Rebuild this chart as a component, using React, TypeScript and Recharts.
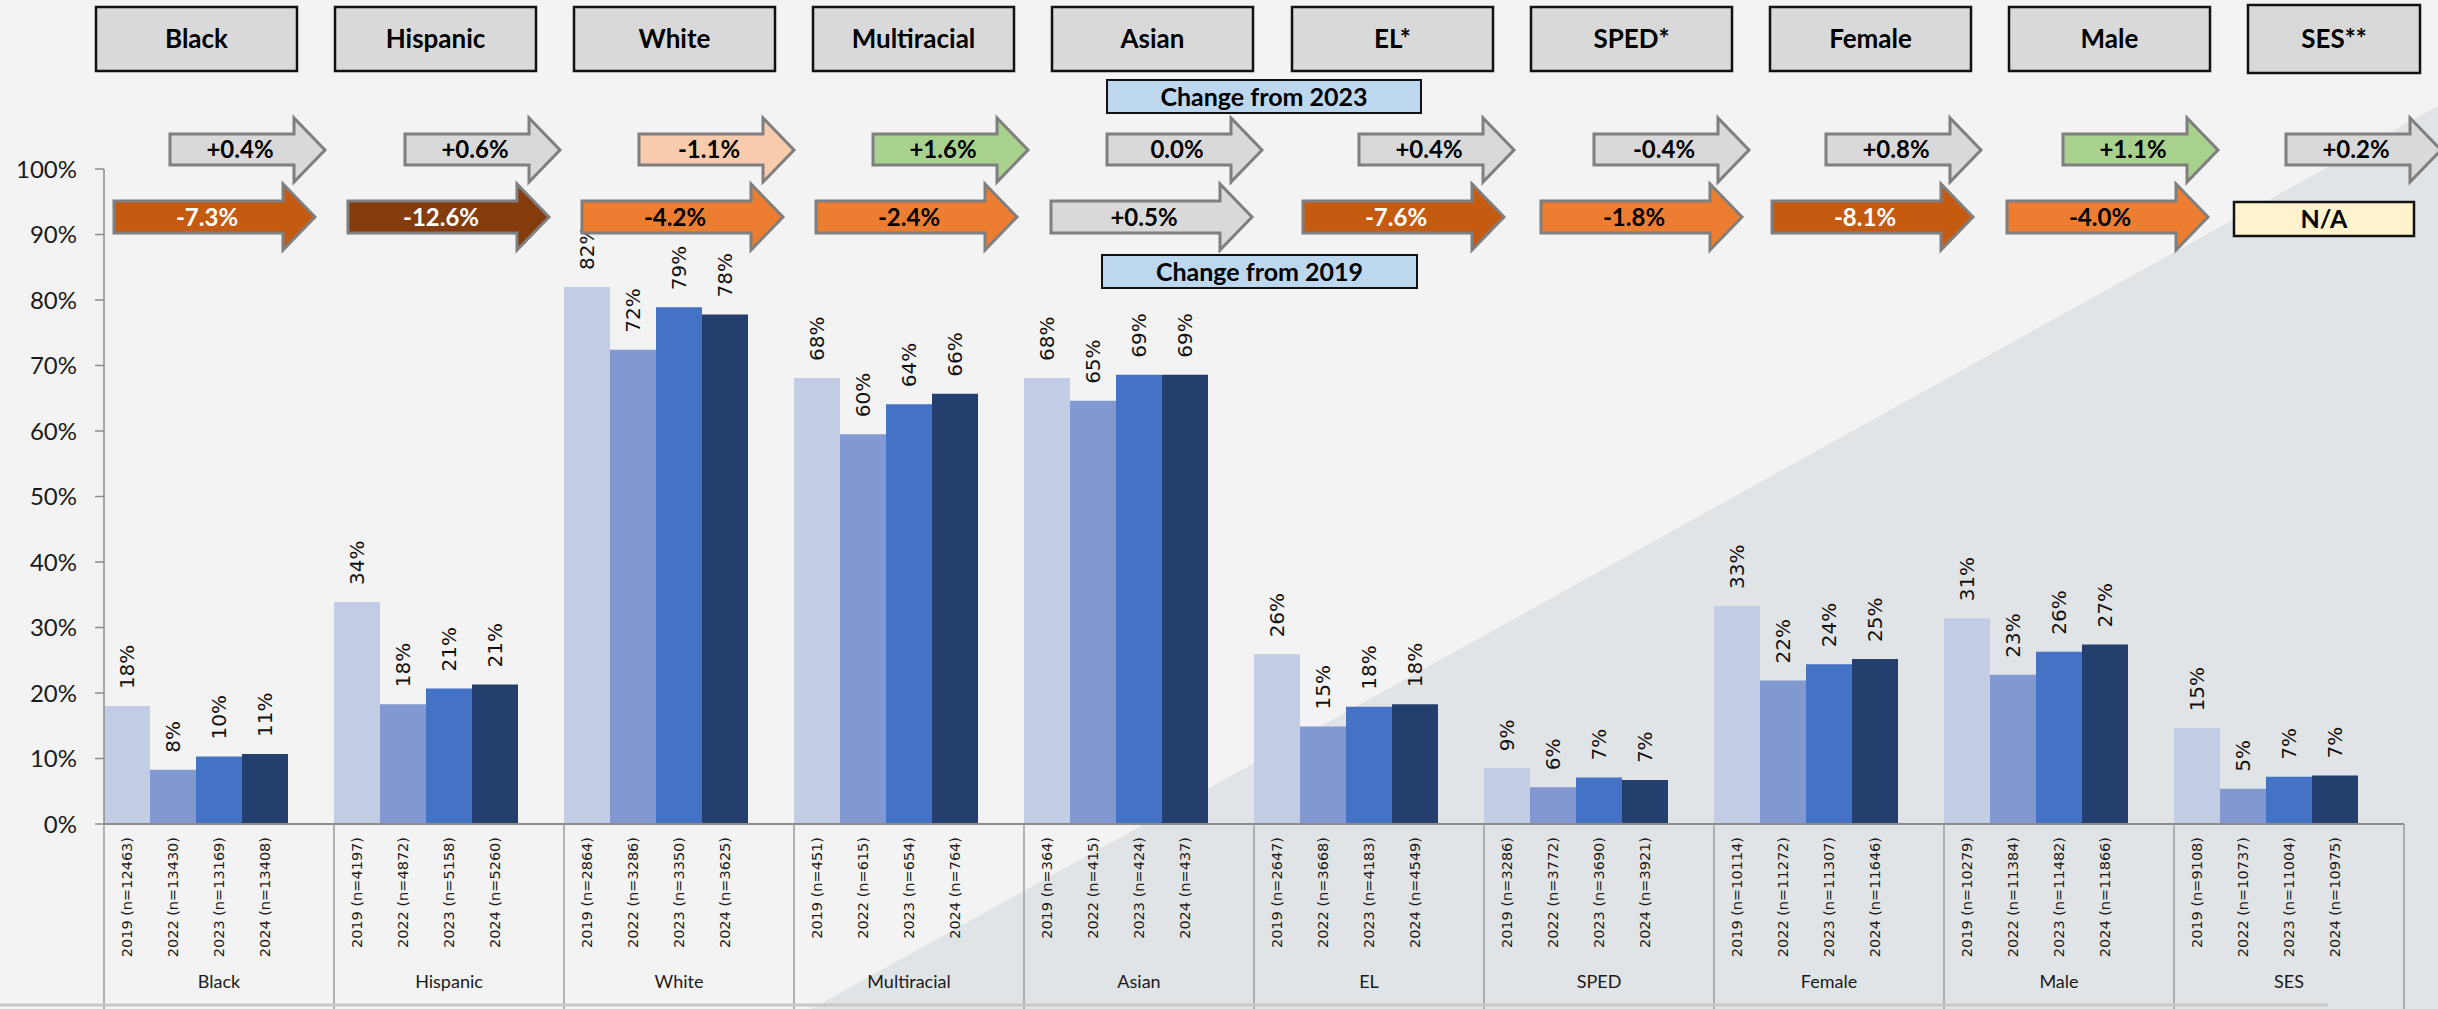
import { BarChart, Bar, XAxis, YAxis, Cell, LabelList } from "recharts";

// groups on the category axis
const groups = ["Black", "Hispanic", "White", "Multiracial", "Asian", "EL", "SPED", "Female", "Male", "SES"];
const headerLabels = ["Black", "Hispanic", "White", "Multiracial", "Asian", "EL*", "SPED*", "Female", "Male", "SES**"];
const years = ["2019", "2022", "2023", "2024"];

// percent meeting standard, by year
const rate2019 = [18.0, 33.9, 82.0, 68.1, 68.1, 25.9, 8.5, 33.3, 31.4, 14.6];
const rate2022 = [8.3, 18.3, 72.4, 59.5, 64.6, 14.9, 5.6, 21.9, 22.8, 5.4];
const rate2023 = [10.3, 20.7, 78.9, 64.1, 68.6, 17.9, 7.1, 24.4, 26.3, 7.2];
const rate2024 = [10.7, 21.3, 77.8, 65.7, 68.6, 18.3, 6.7, 25.2, 27.4, 7.4];

// student counts
const n2019 = [12463, 4197, 2864, 451, 364, 2647, 3286, 10114, 10279, 9108];
const n2022 = [13430, 4872, 3286, 615, 415, 3668, 3772, 11272, 11384, 10737];
const n2023 = [13169, 5158, 3350, 654, 424, 4183, 3690, 11307, 11482, 11004];
const n2024 = [13408, 5260, 3625, 764, 437, 4549, 3921, 11646, 11866, 10975];

// change arrows (percentage points)
const changeFrom2023 = [0.4, 0.6, -1.1, 1.6, 0.0, 0.4, -0.4, 0.8, 1.1, 0.2];
const changeFrom2019 = [-7.3, -12.6, -4.2, -2.4, 0.5, -7.6, -1.8, -8.1, -4.0, null];

const yTicks = [0, 10, 20, 30, 40, 50, 60, 70, 80, 90, 100];

const yearColors = ["#c2cce5", "#8198d0", "#4472c4", "#243e6e"];

// slide layout (px)
const W = 2438;
const H = 1009;
const PLOT_LEFT = 104;
const PLOT_RIGHT = 2404;
const SLOTS = 5; // 4 bars + 1 gap per group
const BAND = (PLOT_RIGHT - PLOT_LEFT) / (groups.length * SLOTS);

const headerLeft = [96, 335, 574, 813, 1052, 1292, 1531, 1770, 2009, 2248];
const upperLeft = [170, 405, 639, 873, 1107, 1359, 1594, 1826, 2063, 2286];
const lowerLeft = [114, 348, 582, 816, 1051, 1303, 1541, 1772, 2007];

const rates = [rate2019, rate2022, rate2023, rate2024];
const counts = [n2019, n2022, n2023, n2024];

const rows: any[] = [];
groups.forEach((g, gi) => {
  for (let s = 0; s < SLOTS; s++) {
    if (s < years.length) {
      rows.push({
        key: `${g}-${years[s]}`,
        group: g,
        slot: s,
        year: years[s],
        value: rates[s][gi],
        label: `${years[s]} (n=${counts[s][gi]})`,
      });
    } else {
      rows.push({ key: `${g}-gap`, group: g, slot: s, value: null });
    }
  }
});

const fmtChange = (v: number) => (v > 0 ? `+${v.toFixed(1)}%` : `${v.toFixed(1)}%`);

const changeFill = (v: number) => {
  if (v >= 1) return "#a9d18e";
  if (v > -1) return "#d9d9d9";
  if (v > -1.5) return "#f8cbad";
  if (v > -5) return "#ed7d31";
  if (v > -10) return "#c55a11";
  return "#843c0c";
};

const CategoryTick = (props: any) => {
  const { x, y } = props;
  const index = props.index ?? props.payload?.index ?? 0;
  const row = rows[index];
  if (!row) return null;
  const half = BAND / 2;
  const isLast = index === rows.length - 1;
  return (
    <g>
      {row.year && (
        <text
          transform={`translate(${x},${y + 13}) rotate(-90)`}
          textAnchor="end"
          dy="0.35em"
          fontFamily="DejaVu Sans"
          fontSize={14.5}
          fill="#1a1a1a"
        >
          {row.label}
        </text>
      )}
      {row.slot === 0 && (
        <line x1={x - half} x2={x - half} y1={y} y2={H} stroke="#9c9c9c" strokeWidth={1.5} />
      )}
      {isLast && <line x1={x + half} x2={x + half} y1={y} y2={H} stroke="#9c9c9c" strokeWidth={1.5} />}
      {row.slot === 2 && (
        <text x={x} y={y + 158} textAnchor="middle" dy="0.35em" fontFamily="Lato" fontSize={18} fill="#1a1a1a">
          {row.group}
        </text>
      )}
    </g>
  );
};

const BarValueLabel = (props: any) => {
  const { x, y, width, value } = props;
  if (value == null) return null;
  const cx = Number(x) + Number(width) / 2;
  const top = Number(y) - 17;
  return (
    <text
      transform={`translate(${cx},${top}) rotate(-90)`}
      textAnchor="start"
      dy="0.35em"
      fontFamily="DejaVu Sans"
      fontSize={20}
      fill="#111"
    >
      {`${Math.round(value)}%`}
    </text>
  );
};

const arrowPath = (left: number, tip: number, bodyTop: number, bodyBottom: number, headTop: number, headBottom: number, headLen: number) => {
  const hs = tip - headLen;
  const mid = (headTop + headBottom) / 2;
  return `M${left},${bodyTop} L${hs},${bodyTop} L${hs},${headTop} L${tip},${mid} L${hs},${headBottom} L${hs},${bodyBottom} L${left},${bodyBottom} Z`;
};

function Overlay() {
  return (
    <svg width={W} height={H} style={{ position: "absolute", left: 0, top: 0, pointerEvents: "none" }}>
      <line x1={0} x2={2328} y1={1005} y2={1005} stroke="#c8c8c8" strokeWidth={3} />
      {headerLabels.map((h, i) => {
        const left = headerLeft[i];
        const last = i === headerLabels.length - 1;
        const w = last ? 172 : 201;
        const top = last ? 5 : 7;
        const ht = last ? 68 : 64;
        return (
          <g key={h}>
            <rect x={left} y={top} width={w} height={ht} fill="#d9d9d9" stroke="#111" strokeWidth={2.5} />
            <text x={left + w / 2} y={top + ht / 2} dy="0.36em" textAnchor="middle" fontFamily="Lato" fontWeight={700} fontSize={26} fill="#000">
              {h}
            </text>
          </g>
        );
      })}

      <rect x={1107} y={80} width={314} height={33} fill="#bdd7ee" stroke="#111" strokeWidth={2} />
      <text x={1264} y={96.5} dy="0.36em" textAnchor="middle" fontFamily="Lato" fontWeight={700} fontSize={25} fill="#000">
        Change from 2023
      </text>
      <rect x={1102} y={255} width={315} height={33} fill="#bdd7ee" stroke="#111" strokeWidth={2} />
      <text x={1259.5} y={271.5} dy="0.36em" textAnchor="middle" fontFamily="Lato" fontWeight={700} fontSize={25} fill="#000">
        Change from 2019
      </text>

      {changeFrom2023.map((v, i) => {
        const left = upperLeft[i];
        return (
          <g key={`u${i}`}>
            <path d={arrowPath(left, left + 155, 134, 165, 118, 182, 31)} fill={changeFill(v)} stroke="#7f7f7f" strokeWidth={3} />
            <text x={left + 70} y={149.5} dy="0.36em" textAnchor="middle" fontFamily="Lato" fontWeight={700} fontSize={24} fill={v <= -5 ? "#fff" : "#000"}>
              {fmtChange(v)}
            </text>
          </g>
        );
      })}

      {changeFrom2019.map((v, i) => {
        if (v == null) {
          return (
            <g key={`l${i}`}>
              <rect x={2234} y={202} width={180} height={34} fill="#fff2cc" stroke="#111" strokeWidth={2.5} />
              <text x={2324} y={219} dy="0.36em" textAnchor="middle" fontFamily="Lato" fontWeight={700} fontSize={25} fill="#000">
                N/A
              </text>
            </g>
          );
        }
        const left = lowerLeft[i];
        return (
          <g key={`l${i}`}>
            <path d={arrowPath(left, left + 201, 201, 233, 184, 250, 32)} fill={changeFill(v)} stroke="#7f7f7f" strokeWidth={3} />
            <text x={left + 93} y={217} dy="0.36em" textAnchor="middle" fontFamily="Lato" fontWeight={700} fontSize={24} fill={v <= -5 ? "#fff" : "#000"}>
              {fmtChange(v)}
            </text>
          </g>
        );
      })}
    </svg>
  );
}

export default function App() {
  return (
    <div
      style={{
        position: "absolute",
        left: 0,
        top: 0,
        width: W,
        height: H,
        background: "#f3f3f3",
        overflow: "hidden",
        fontFamily: "Lato",
      }}
    >
      <div
        style={{
          position: "absolute",
          inset: 0,
          background: "#e1e4e6",
          clipPath: "polygon(811px 1009px, 2438px 106px, 2438px 1009px)",
        }}
      />
      <div style={{ position: "absolute", left: 0, top: 0 }}>
        <BarChart
          width={W}
          height={H}
          data={rows}
          margin={{ top: 169, right: W - PLOT_RIGHT, bottom: 0, left: 0 }}
          barCategoryGap={0}
          barGap={0}
        >
          <XAxis
            dataKey="key"
            interval={0}
            height={H - 824}
            tickLine={false}
            tickSize={0}
            tickMargin={0}
            axisLine={{ stroke: "#8c8c8c", strokeWidth: 2 }}
            tick={(p: any) => <CategoryTick {...p} />}
          />
          <YAxis
            width={PLOT_LEFT}
            domain={[0, 100]}
            ticks={yTicks}
            interval={0}
            tickFormatter={(v) => `${v}%`}
            axisLine={{ stroke: "#8c8c8c", strokeWidth: 1.5 }}
            tickLine={{ stroke: "#8c8c8c", strokeWidth: 1.5 }}
            tickSize={9}
            tickMargin={18}
            tick={{ fontFamily: "Lato", fontSize: 24, fill: "#1a1a1a" }}
          />
          <Bar dataKey="value" isAnimationActive={false}>
            {rows.map((r) => (
              <Cell key={r.key} fill={r.year ? yearColors[r.slot] : "none"} />
            ))}
            <LabelList dataKey="value" content={BarValueLabel} />
          </Bar>
        </BarChart>
      </div>
      <Overlay />
    </div>
  );
}
